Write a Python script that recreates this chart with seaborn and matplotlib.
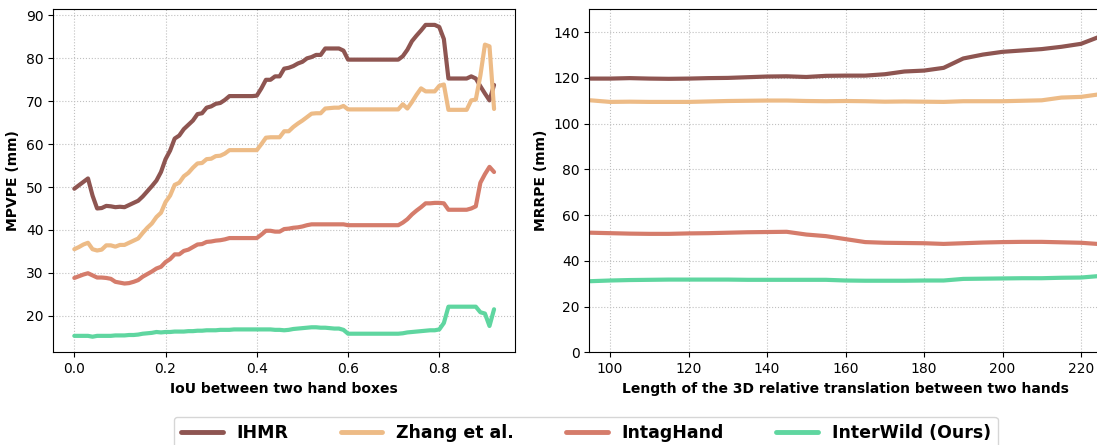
import numpy as np
import pandas as pd
import matplotlib
matplotlib.use("Agg")
import matplotlib.pyplot as plt
import seaborn as sns

methods = ["IHMR", "Zhang et al.", "IntagHand", "InterWild (Ours)"]
colors = ["#8e5551", "#edbb86", "#d57c6b", "#5fd6a0"]

# left panel: error vs IoU between two hand boxes (0.00 .. 0.92)
iou = np.round(np.arange(93) * 0.01, 2)

ihmr_iou = [
    49.6, 50.4, 51.2, 52.0, 48.0, 45.0, 45.1, 45.6, 45.5, 45.3,
    45.4, 45.3, 45.8, 46.3, 46.8, 47.8, 49.0, 50.2, 51.5, 53.5,
    56.5, 58.5, 61.3, 62.0, 63.5, 64.5, 65.5, 67.0, 67.2, 68.5,
    68.8, 69.4, 69.6, 70.3, 71.2, 71.2, 71.2, 71.2, 71.2, 71.2,
    71.3, 73.0, 75.0, 75.0, 75.8, 75.8, 77.6, 77.8, 78.2, 78.8,
    79.2, 80.0, 80.3, 80.8, 80.8, 82.3, 82.3, 82.3, 82.3, 81.8,
    79.7, 79.7, 79.7, 79.7, 79.7, 79.7, 79.7, 79.7, 79.7, 79.7,
    79.7, 79.7, 80.5, 82.0, 84.0, 85.3, 86.5, 87.8, 87.8, 87.8,
    87.3, 84.5, 75.3, 75.3, 75.3, 75.3, 75.3, 75.8, 75.3, 73.5,
    71.8, 70.2, 73.8,
]
zhang_iou = [
    35.5, 36.0, 36.6, 37.0, 35.5, 35.2, 35.4, 36.4, 36.4, 36.1,
    36.5, 36.5, 37.0, 37.5, 38.0, 39.3, 40.5, 41.5, 43.0, 44.0,
    46.5, 48.0, 50.5, 51.0, 52.5, 53.3, 54.5, 55.5, 55.6, 56.5,
    56.6, 57.2, 57.3, 57.8, 58.6, 58.6, 58.6, 58.6, 58.6, 58.6,
    58.6, 60.0, 61.5, 61.6, 61.6, 61.6, 63.0, 63.0, 64.0, 64.8,
    65.5, 66.3, 67.1, 67.2, 67.2, 68.3, 68.4, 68.5, 68.5, 68.9,
    68.1, 68.1, 68.1, 68.1, 68.1, 68.1, 68.1, 68.1, 68.1, 68.1,
    68.1, 68.1, 69.3, 68.3, 69.8, 71.5, 73.0, 72.3, 72.3, 72.3,
    73.6, 73.9, 68.0, 68.0, 68.0, 68.0, 68.0, 70.2, 70.4, 76.0,
    83.2, 82.8, 68.2,
]
intag_iou = [
    28.8, 29.2, 29.6, 29.9, 29.4, 28.9, 28.9, 28.8, 28.6, 27.9,
    27.7, 27.5, 27.6, 27.9, 28.3, 29.1, 29.7, 30.3, 31.0, 31.4,
    32.5, 33.2, 34.3, 34.3, 35.1, 35.4, 36.0, 36.6, 36.7, 37.2,
    37.3, 37.5, 37.6, 37.8, 38.1, 38.1, 38.1, 38.1, 38.1, 38.1,
    38.1, 38.9, 39.8, 39.8, 39.6, 39.6, 40.2, 40.3, 40.5, 40.6,
    40.8, 41.1, 41.3, 41.3, 41.3, 41.3, 41.3, 41.3, 41.3, 41.3,
    41.1, 41.1, 41.1, 41.1, 41.1, 41.1, 41.1, 41.1, 41.1, 41.1,
    41.1, 41.1, 41.7, 42.5, 43.6, 44.5, 45.3, 46.2, 46.2, 46.3,
    46.3, 46.2, 44.7, 44.7, 44.7, 44.7, 44.7, 45.0, 45.5, 51.0,
    53.0, 54.7, 53.5,
]
interwild_iou = [
    15.3, 15.3, 15.3, 15.3, 15.1, 15.3, 15.3, 15.3, 15.3, 15.4,
    15.4, 15.4, 15.5, 15.5, 15.6, 15.8, 15.9, 16.0, 16.2, 16.1,
    16.2, 16.2, 16.3, 16.3, 16.3, 16.4, 16.4, 16.5, 16.5, 16.6,
    16.6, 16.6, 16.7, 16.7, 16.7, 16.8, 16.8, 16.8, 16.8, 16.8,
    16.8, 16.8, 16.8, 16.8, 16.7, 16.7, 16.6, 16.7, 16.9, 17.0,
    17.1, 17.2, 17.3, 17.3, 17.2, 17.2, 17.1, 17.0, 17.0, 16.7,
    15.8, 15.8, 15.8, 15.8, 15.8, 15.8, 15.8, 15.8, 15.8, 15.8,
    15.8, 15.8, 15.9, 16.1, 16.2, 16.3, 16.4, 16.5, 16.6, 16.6,
    16.8, 18.3, 22.1, 22.1, 22.1, 22.1, 22.1, 22.1, 22.1, 20.8,
    20.5, 17.6, 21.5,
]

# right panel: error vs length of 3D relative translation
dist = [95, 100, 105, 110, 115, 120, 125, 130, 135, 140, 145, 150, 155, 160,
        165, 170, 175, 180, 185, 190, 195, 200, 205, 210, 215, 220, 225]
ihmr_dist = [119.7, 119.7, 119.9, 119.7, 119.6, 119.7, 119.9, 120.0, 120.3,
             120.6, 120.7, 120.4, 120.9, 121.0, 121.0, 121.6, 122.8, 123.2,
             124.4, 128.5, 130.2, 131.4, 132.0, 132.6, 133.6, 134.9, 138.2]
zhang_dist = [110.2, 109.5, 109.6, 109.5, 109.5, 109.5, 109.7, 109.9, 110.0,
              110.1, 110.1, 109.9, 109.8, 109.9, 109.8, 109.6, 109.7, 109.6,
              109.5, 109.8, 109.8, 109.8, 110.0, 110.2, 111.4, 111.7, 112.9]
intag_dist = [52.3, 52.1, 51.9, 51.8, 51.8, 52.0, 52.1, 52.3, 52.5, 52.6,
              52.7, 51.5, 50.8, 49.5, 48.2, 47.9, 47.8, 47.7, 47.4, 47.7,
              48.0, 48.2, 48.3, 48.3, 48.1, 47.9, 47.3]
interwild_dist = [31.1, 31.4, 31.6, 31.7, 31.8, 31.8, 31.8, 31.8, 31.7, 31.7,
                  31.7, 31.7, 31.7, 31.4, 31.3, 31.3, 31.3, 31.4, 31.4, 32.1,
                  32.2, 32.3, 32.4, 32.4, 32.6, 32.7, 33.4]


def long_form(x, series, xname):
    frames = []
    for name, vals in zip(methods, series):
        frames.append(pd.DataFrame({xname: x, "err": vals, "method": name}))
    return pd.concat(frames, ignore_index=True)


df_iou = long_form(iou, [ihmr_iou, zhang_iou, intag_iou, interwild_iou], "iou")
df_dist = long_form(dist, [ihmr_dist, zhang_dist, intag_dist, interwild_dist], "dist")
palette = dict(zip(methods, colors))

sns.set_style("ticks", {"axes.grid": True, "grid.linestyle": ":",
                        "grid.color": "#c0c0c0", "axes.edgecolor": "black",
                        "text.color": "black", "axes.labelcolor": "black",
                        "xtick.color": "black", "ytick.color": "black"})
plt.rcParams["font.family"] = ["DejaVu Sans"]

fig = plt.figure(figsize=(10.97, 4.45), dpi=100)
ax1 = fig.add_axes([0.0486, 0.2083, 0.4209, 0.7708])
ax2 = fig.add_axes([0.5372, 0.2083, 0.4661, 0.7708])

sns.lineplot(data=df_iou, x="iou", y="err", hue="method", palette=palette,
             linewidth=3, ax=ax1, legend=False)
ax1.set_xlabel("IoU between two hand boxes", fontweight="bold")
ax1.set_ylabel("MPVPE (mm)", fontweight="bold")
ax1.set_xticks([0.0, 0.2, 0.4, 0.6, 0.8])

sns.lineplot(data=df_dist, x="dist", y="err", hue="method", palette=palette,
             linewidth=3, ax=ax2)
ax2.set_xlim(94.7, 225)
ax2.set_ylim(0, 150)
ax2.set_xticks([100, 120, 140, 160, 180, 200, 220])
ax2.set_xlabel("Length of the 3D relative translation between two hands", fontweight="bold")
ax2.set_ylabel("MRRPE (mm)", fontweight="bold")

for ax in (ax1, ax2):
    ax.grid(True, linestyle=":", color="#c0c0c0", linewidth=0.8)
    ax.tick_params(direction="out", length=3.5, labelsize=10)

handles, labels = ax2.get_legend_handles_labels()
ax2.get_legend().remove()
for h in handles:
    h.set_linewidth(3.5)
fig.legend(handles, labels, loc="upper center", ncol=4,
           bbox_to_anchor=(0.534, 0.083), bbox_transform=fig.transFigure,
           prop={"weight": "bold", "size": 12.5}, handlelength=2.4,
           columnspacing=3.0, frameon=True)

fig.savefig("out.png", dpi=100)
